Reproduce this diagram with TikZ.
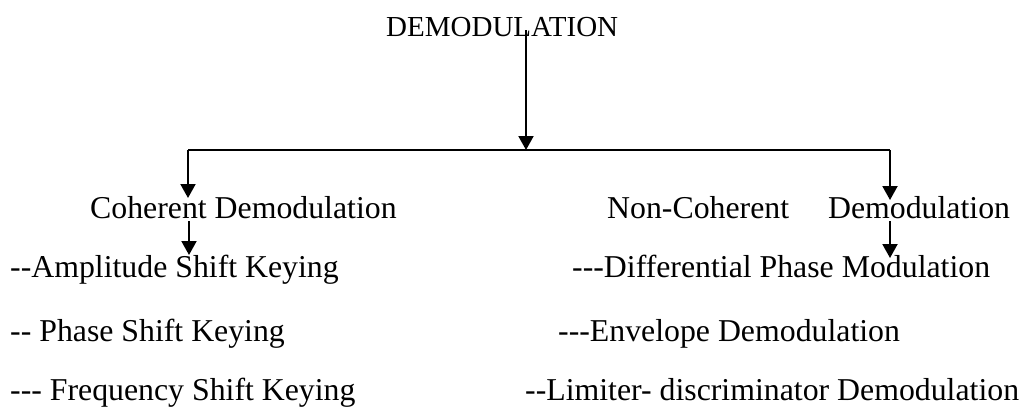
\documentclass[tikz,border=0pt]{standalone}
\usepackage{fontspec}
\setmainfont{Liberation Serif}
\usetikzlibrary{arrows.meta}
\newcommand{\hh}{-\kern0pt}
\begin{document}
\begin{tikzpicture}[x=1pt,y=-1pt,
  txt/.style={anchor=base west,inner sep=0pt,font=\fontsize{31.8}{36}\selectfont},
  ttl/.style={anchor=base west,inner sep=0pt,font=\fontsize{29}{34}\selectfont},
  arr/.style={line width=2pt,-{Triangle[width=15pt,length=14pt]}},
  ln/.style={line width=1.8pt}]
\useasboundingbox (0,0) rectangle (1026,408);
\node[ttl] (title) at (386,36) {DEMODULATION};
\node[txt] (coh) at (90,218) {Coherent Demodulation};
\node[txt] (noncoh) at (607,218) {Non-Coherent\hspace{39pt}Demodulation};
\node[txt] (ask) at (10,277) {\hh-Amplitude Shift Keying};
\node[txt] (psk) at (10,341) {\hh- Phase Shift Keying};
\node[txt] (fsk) at (10,400) {\hh\hh- Frequency Shift Keying};
\node[txt] (dpm) at (572,277) {\hh\hh-Differential Phase Modulation};
\node[txt] (env) at (558,341) {\hh\hh-Envelope Demodulation};
\node[txt] (lim) at (525,400) {\hh-Limiter- discriminator Demodulation};
% connector points
\coordinate (t0) at (526,30);
\coordinate (j) at (526,150);
\coordinate (jl) at (188,150);
\coordinate (jr) at (890,150);
\coordinate (cl) at (188,198);
\coordinate (cr) at (890,200);
\coordinate (l0) at (189,221);
\coordinate (l1) at (189,255);
\coordinate (r0) at (890,221);
\coordinate (r1) at (890,258);
\draw[arr] (t0) -- (j);
\draw[ln] (jl) -- (jr);
\draw[arr] (jl) -- (cl);
\draw[arr] (jr) -- (cr);
\draw[arr] (l0) -- (l1);
\draw[arr] (r0) -- (r1);
\end{tikzpicture}
\end{document}
